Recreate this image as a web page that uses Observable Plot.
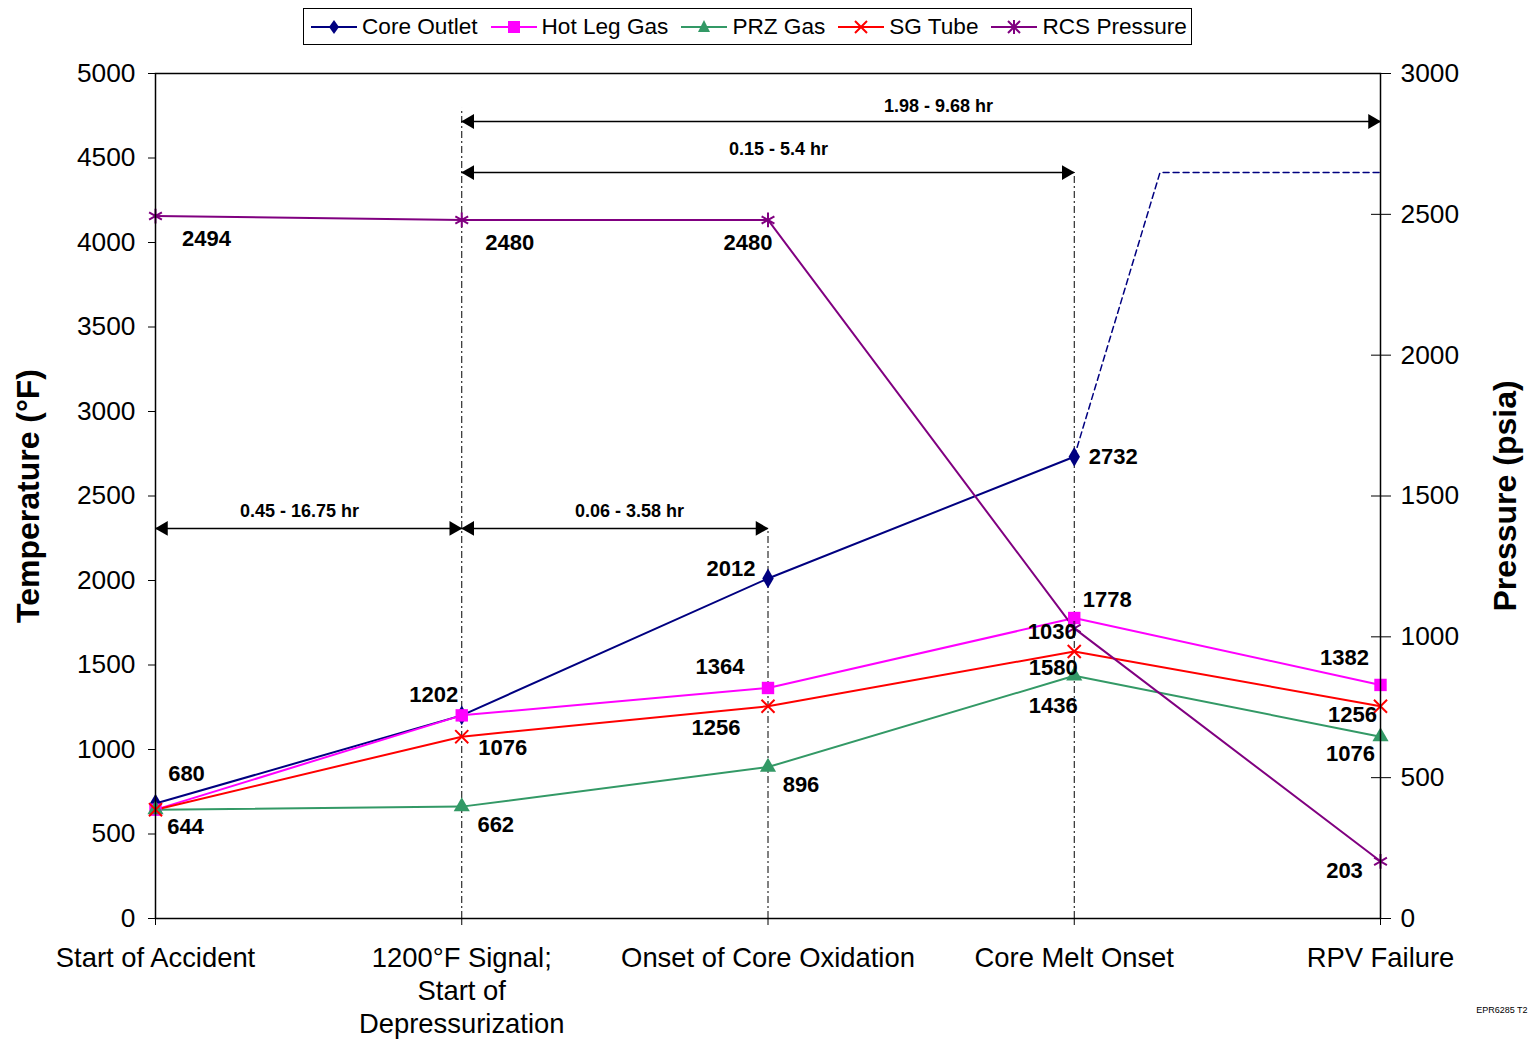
<!DOCTYPE html>
<html><head><meta charset="utf-8">
<script src="https://cdn.jsdelivr.net/npm/d3@7"></script>
<script src="https://cdn.jsdelivr.net/npm/@observablehq/plot@0.6"></script>
<style>
body{margin:0;background:#fff;font-family:"Liberation Sans",Arial,sans-serif;color:#000;}
#top{position:relative;width:1528px;height:50px;}
#legend{position:absolute;left:303px;top:8px;height:37px;box-sizing:border-box;border:1px solid #000;display:flex;align-items:center;padding:0 4px 0 7px;font-size:22.6px;white-space:nowrap;gap:13px;}
.item{display:flex;align-items:center;}
.item svg{margin-right:5px;}
</style>
</head><body>
<div id="top"><div id="legend"></div></div>
<div id="chart"></div>
<script>
// ---- data ----
const categories = ["Start of Accident", "1200°F Signal;\nStart of\nDepressurization", "Onset of Core Oxidation", "Core Melt Onset", "RPV Failure"];
const seriesNames = ["Core Outlet", "Hot Leg Gas", "PRZ Gas", "SG Tube", "RCS Pressure"];
const coreOutlet = [680, 1202, 2012, 2732];
const hotLegGas = [644, 1202, 1364, 1778, 1382];
const przGas = [644, 662, 896, 1436, 1076];
const sgTube = [644, 1076, 1256, 1580, 1256];
const rcsPressure = [2494, 2480, 2480, 1030, 203]; // psia, right axis
// dashed continuation of core outlet after core melt onset (x in category units, temperature °F)
const coreOutletExtX = [3, 3.28, 4];
const coreOutletExtT = [2732, 4414, 4414];
// time-span annotations
const spanLabels = ["0.45 - 16.75 hr", "0.06 - 3.58 hr", "0.15 - 5.4 hr", "1.98 - 9.68 hr"];
const spanFrom = [0, 1, 1, 1];
const spanTo = [1, 2, 3, 4];
const spanLevel = [2308, 2308, 4414, 4716];
// vertical guide lines
const guideX = [1, 2, 3];
const guideTop = [4793, 2308, 4414];
const tempTicks = d3.range(0, 5001, 500);
const pressTicks = d3.range(0, 3001, 500);

// ---- styles ----
const k = 5000 / 3000; // pressure -> temperature axis units
const colors = ["#000080", "#FF00FF", "#339966", "#FF0000", "#800080"];
const symbols = ["diamond", "square", "triangle", "times", "asterisk"];
const symR = [6, 7, 6, 6, 7];
const filled = [true, true, true, false, false];
const spanLabelX = [0.47, 1.548, 2.034, 2.557];
const spanLabelDy = [-17, -17, -23, -15];
const labelOffsets = [
  [[31,-30],[-28,-20],[-37,-10],[39,0]],
  [[30,17],null,[-48,-21],[33,-18],[-36,-27]],
  [null,[34,18],[33,18],[-21,30],[-30,17]],
  [null,[41,11],[-52,22],[-21,16],[-28,9]],
  [[51,23],[48,23],[-20,23],[-22,4],[-36,10]]
];

const seriesVals = [coreOutlet, hotLegGas, przGas, sgTube, rcsPressure.map(p => p * k)];
const rawVals = [coreOutlet, hotLegGas, przGas, sgTube, rcsPressure];

const marks = [];
// guides
const guides = guideX.map((x, i) => ({x, top: guideTop[i]}));
marks.push(Plot.ruleX(guides, {x: "x", y1: 0, y2: "top", stroke: "#000", strokeWidth: 1, strokeDasharray: "7,3,2,3"}));
// spans
const spans = spanLabels.map((l, i) => ({l, from: spanFrom[i], to: spanTo[i], t: spanLevel[i], lx: spanLabelX[i]}));
marks.push(Plot.ruleY(spans, {y: "t", x1: "from", x2: "to", stroke: "#000", strokeWidth: 1.5}));
marks.push(Plot.dot(spans, {x: "from", y: "t", symbol: "triangle", r: 5.5, fill: "#000", rotate: -90, dx: 8}));
marks.push(Plot.dot(spans, {x: "to", y: "t", symbol: "triangle", r: 5.5, fill: "#000", rotate: 90, dx: -8}));
spans.forEach((s, i) => marks.push(Plot.text([s], {x: "lx", y: "t", text: "l", dy: spanLabelDy[i], fontSize: 18, fontWeight: "bold"})));
// dashed extension
const ext = coreOutletExtX.map((x, i) => ({x, t: coreOutletExtT[i]}));
marks.push(Plot.line(ext, {x: "x", y: "t", stroke: colors[0], strokeWidth: 1.5, strokeDasharray: "6,4"}));
// series
seriesVals.forEach((vals, s) => {
  const data = vals.map((v, i) => ({x: i, v}));
  marks.push(Plot.line(data, {x: "x", y: "v", stroke: colors[s], strokeWidth: 2}));
});
seriesVals.forEach((vals, s) => {
  const data = vals.map((v, i) => ({x: i, v}));
  marks.push(Plot.dot(data, filled[s]
    ? {x: "x", y: "v", symbol: symbols[s], r: symR[s], fill: colors[s], stroke: "none"}
    : {x: "x", y: "v", symbol: symbols[s], r: symR[s], stroke: colors[s], strokeWidth: 2, fill: "none"}));
});
// data labels
seriesVals.forEach((vals, s) => {
  vals.forEach((v, i) => {
    const o = labelOffsets[s][i];
    if (!o) return;
    marks.push(Plot.text([{x: i, v, t: String(rawVals[s][i])}], {x: "x", y: "v", text: "t", dx: o[0], dy: o[1], fontSize: 22, fontWeight: "bold"}));
  });
});
// frame & axes
marks.push(Plot.frame({stroke: "#000", strokeWidth: 1.5}));
marks.push(Plot.axisY({anchor: "left", ticks: tempTicks, tickFormat: d => String(d), tickSize: 7, tickPadding: 13, fontSize: 26.3, label: null}));
marks.push(Plot.axisY({anchor: "right", ticks: pressTicks.map(p => p * k), tickFormat: d => String(Math.round(d / k)), tickSize: 20, dx: -10, tickPadding: 10, fontSize: 26.3, label: null}));
marks.push(Plot.axisX({ticks: [0,1,2,3,4], tickFormat: i => categories[i], tickSize: 7, tickPadding: 18, fontSize: 27.4, lineHeight: 1.21, label: null}));
// axis titles
marks.push(Plot.text(["Temperature (°F)"], {frameAnchor: "left", textAnchor: "middle", dx: -127, rotate: -90, fontSize: 32, fontWeight: "bold"}));
marks.push(Plot.text(["Pressure (psia)"], {frameAnchor: "right", textAnchor: "middle", dx: 125, rotate: -90, fontSize: 32, fontWeight: "bold"}));
marks.push(Plot.text(["EPR6285 T2"], {frameAnchor: "bottom-right", dx: 147, dy: 94, textAnchor: "end", fontSize: 9}));

const chart = Plot.plot({
  width: 1528, height: 990,
  marginTop: 23, marginBottom: 122, marginLeft: 155, marginRight: 148,
  x: {type: "linear", domain: [0, 4]},
  y: {domain: [0, 5000]},
  style: {fontFamily: '"Liberation Sans", Arial, sans-serif', fontSize: "26px", color: "#000", background: "#fff", overflow: "visible"},
  marks
});
document.getElementById("chart").appendChild(chart);

// legend
const sw = (s) => {
  const c = colors[s];
  let m = "";
  if (s === 0) m = `<polygon points="23,5 28,12 23,19 18,12" fill="${c}"/>`;
  if (s === 1) m = `<rect x="17" y="6" width="12" height="12" fill="${c}"/>`;
  if (s === 2) m = `<polygon points="23,5 29,17 17,17" fill="${c}"/>`;
  if (s === 3) m = `<path d="M17,6L29,18M29,6L17,18" stroke="${c}" stroke-width="2"/>`;
  if (s === 4) m = `<path d="M17,6L29,18M29,6L17,18M23,5L23,19" stroke="${c}" stroke-width="2"/>`;
  return `<svg width="46" height="24"><line x1="0" y1="12" x2="46" y2="12" stroke="${c}" stroke-width="2"/>${m}</svg>`;
};
document.getElementById("legend").innerHTML = seriesNames.map((n, s) => `<div class="item">${sw(s)}<span>${n}</span></div>`).join("");
</script>
</body></html>
